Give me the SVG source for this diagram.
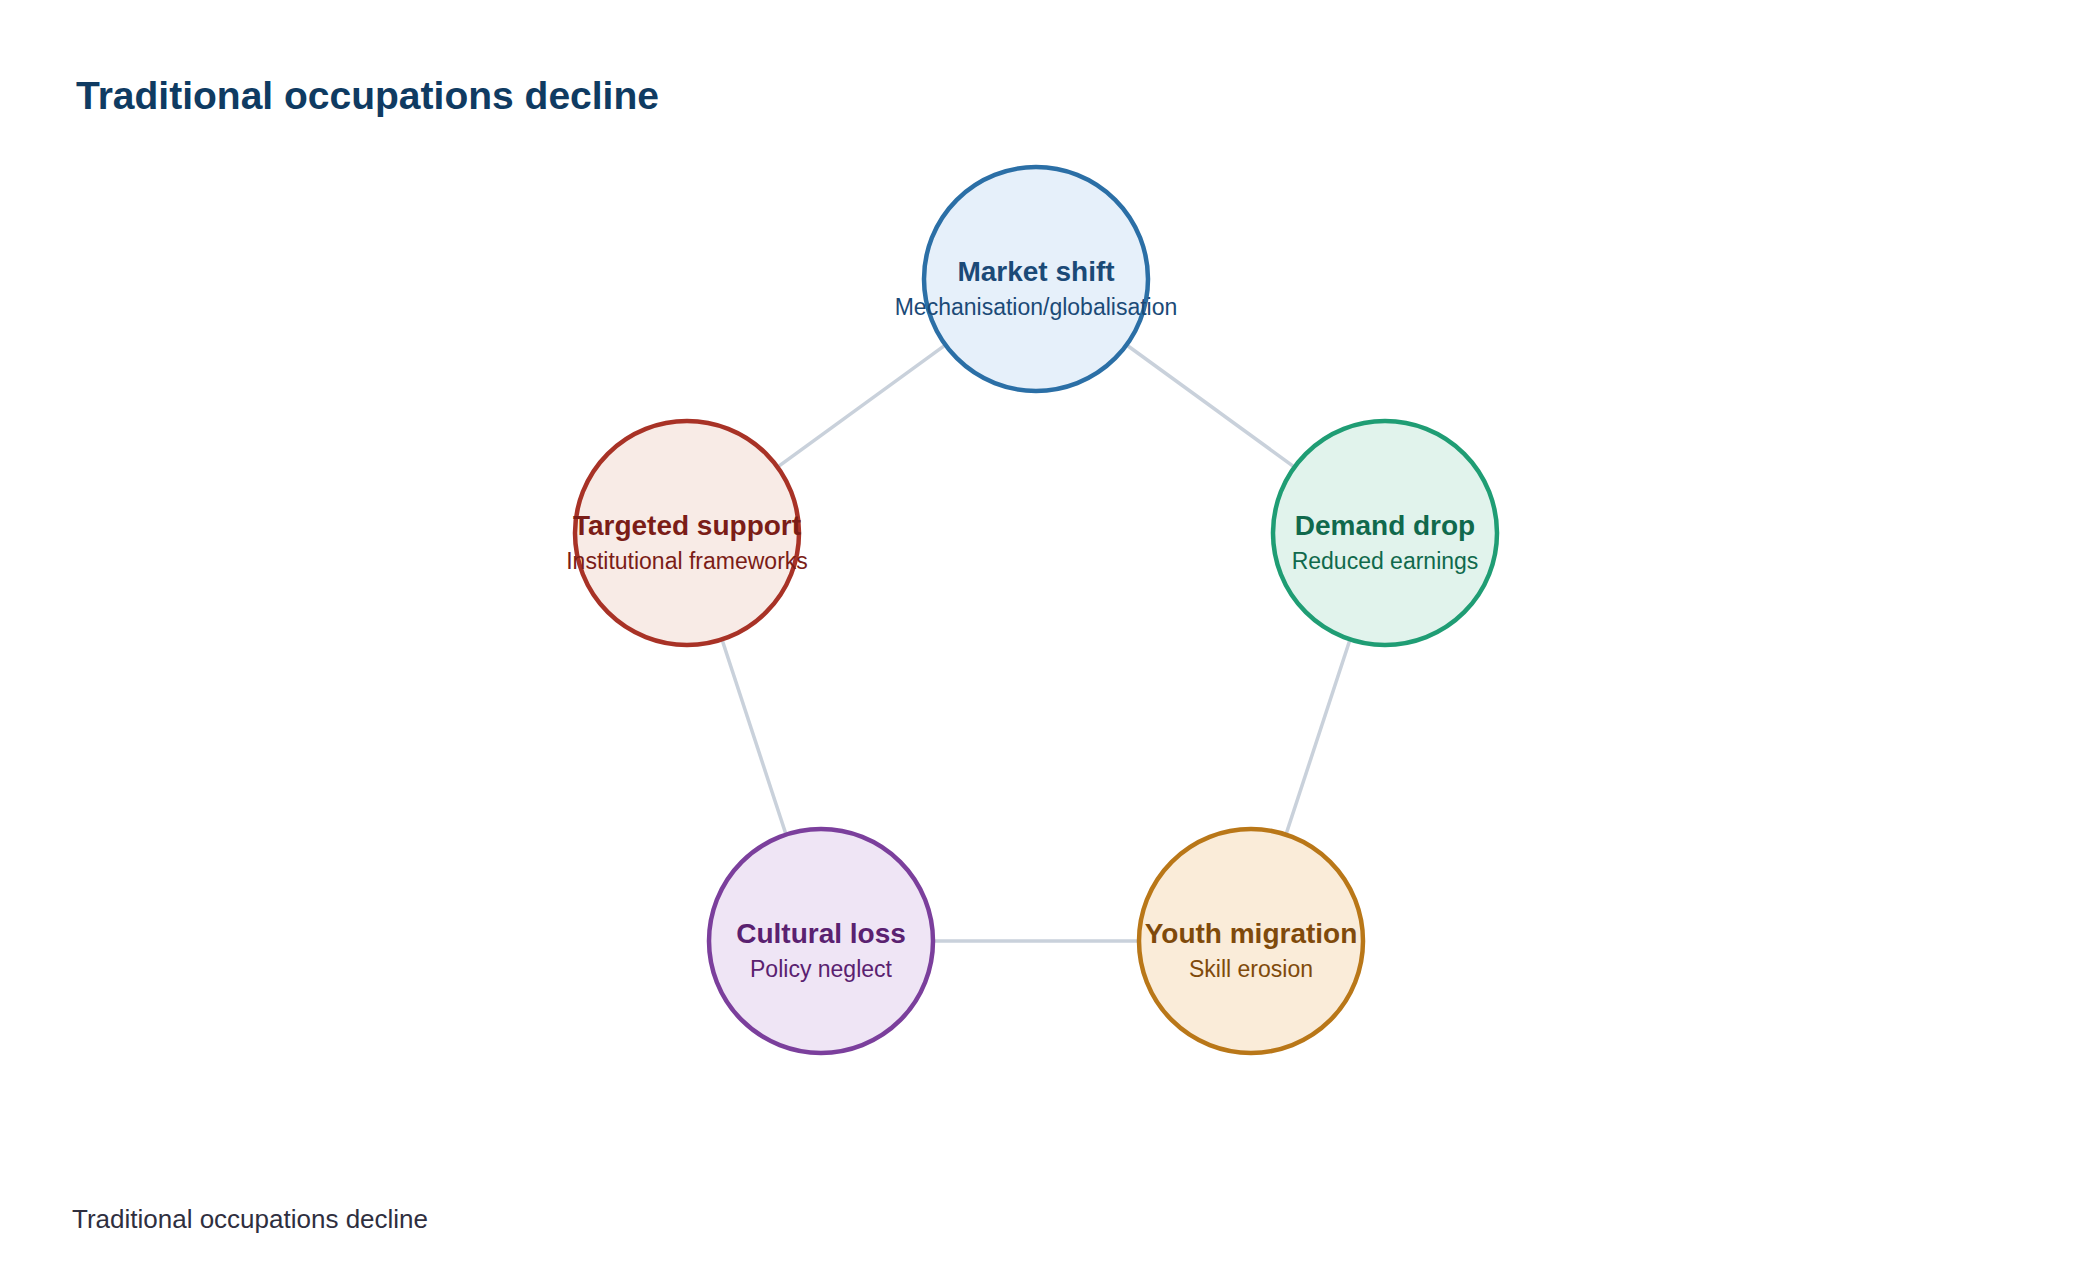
<svg xmlns="http://www.w3.org/2000/svg" width="2080" height="1284" viewBox="0 0 2080 1284">
<style>
.t{font-family:"Liberation Sans",Arial,sans-serif;font-weight:bold;font-size:28px;text-anchor:middle}
.s{font-family:"Liberation Sans",Arial,sans-serif;font-size:23px;text-anchor:middle}
.n{stroke-width:4.5}
.e{stroke:#c9d1db;stroke-width:3.5;fill:none}
</style>
<rect width="2080" height="1284" fill="#ffffff"/>
<text x="76" y="109" font-family="'Liberation Sans',Arial,sans-serif" font-weight="bold" font-size="39" fill="#0f3b62">Traditional occupations decline</text>
<g id="connectors">
<line class="e" x1="1036" y1="279" x2="687" y2="533"/>
<line class="e" x1="1036" y1="279" x2="1385" y2="533"/>
<line class="e" x1="1385" y1="533" x2="1251" y2="941"/>
<line class="e" x1="1251" y1="941" x2="821" y2="941"/>
<line class="e" x1="821" y1="941" x2="687" y2="533"/>
</g>
<g id="market-shift">
<circle class="n" cx="1036" cy="279" r="112" fill="#e6f0fa" stroke="#2b6fa6"/>
<text class="t" x="1036" y="280.5" fill="#1b4a77">Market shift</text>
<text class="s" x="1036" y="314.5" fill="#1b4a77">Mechanisation/globalisation</text>
</g>
<g id="demand-drop">
<circle class="n" cx="1385" cy="533" r="112" fill="#e1f3ec" stroke="#1f9d74"/>
<text class="t" x="1385" y="534.5" fill="#10694c">Demand drop</text>
<text class="s" x="1385" y="568.5" fill="#10694c">Reduced earnings</text>
</g>
<g id="youth-migration">
<circle class="n" cx="1251" cy="941" r="112" fill="#faecd9" stroke="#b97718"/>
<text class="t" x="1251" y="942.5" fill="#7f4a0b">Youth migration</text>
<text class="s" x="1251" y="976.5" fill="#7f4a0b">Skill erosion</text>
</g>
<g id="cultural-loss">
<circle class="n" cx="821" cy="941" r="112" fill="#efe5f5" stroke="#7b3f9c"/>
<text class="t" x="821" y="942.5" fill="#5a2170">Cultural loss</text>
<text class="s" x="821" y="976.5" fill="#5a2170">Policy neglect</text>
</g>
<g id="targeted-support">
<circle class="n" cx="687" cy="533" r="112" fill="#f8ebe6" stroke="#a83226"/>
<text class="t" x="687" y="534.5" fill="#7b1d17">Targeted support</text>
<text class="s" x="687" y="568.5" fill="#7b1d17">Institutional frameworks</text>
</g>
<text x="72" y="1228" font-family="'Liberation Sans',Arial,sans-serif" font-size="26" fill="#2f2f3f">Traditional occupations decline</text>
</svg>
